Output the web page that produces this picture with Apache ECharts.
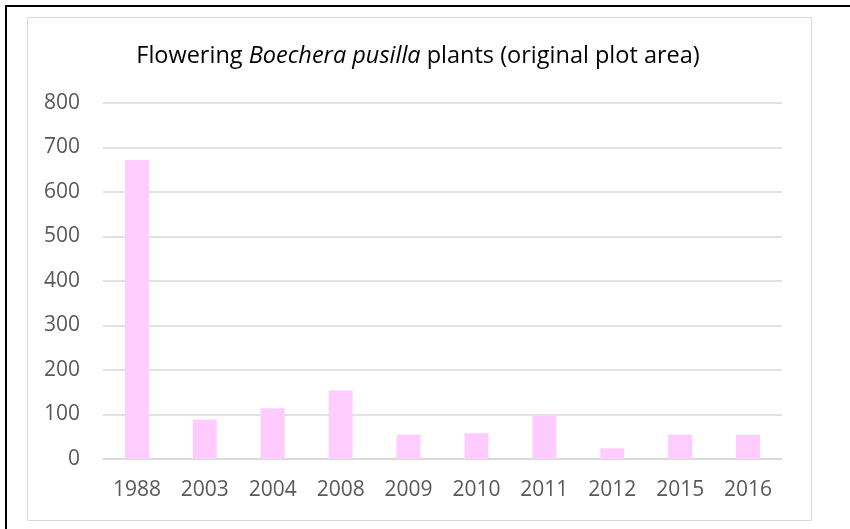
<!DOCTYPE html>
<html>
<head>
<meta charset="utf-8">
<style>
  html, body { margin: 0; padding: 0; background: #fff; }
  #chart { width: 850px; height: 529px; }
</style>
<script src="https://cdn.jsdelivr.net/npm/echarts@6/dist/echarts.min.js"></script>
</head>
<body>
<div id="chart"></div>
<script>
// data
const years = ['1988', '2003', '2004', '2008', '2009', '2010', '2011', '2012', '2015', '2016']
const plants = [672, 89, 114, 154, 55, 58, 99, 24, 55, 54]
const yTicks = [0, 100, 200, 300, 400, 500, 600, 700, 800]

const chart = echarts.init(document.getElementById('chart'))
const font = '"Open Sans", "Liberation Sans", sans-serif'

chart.setOption({
  animation: false,
  backgroundColor: '#fff',
  title: {
    text: '{a|Flowering }{b|Boechera pusilla}{a| plants (original plot area)}',
    left: 413,
    top: 39,
    textAlign: 'center',
    textStyle: {
      rich: {
        a: { fontFamily: font, fontSize: 23.5, color: '#000', fontWeight: 'normal' },
        b: { fontFamily: font, fontSize: 23.5, color: '#000', fontWeight: 'normal', fontStyle: 'italic' },
      },
    },
  },
  graphic: [
    // outer black frame (left + top only, image is cropped)
    { type: 'line', shape: { x1: 6, y1: 6, x2: 6, y2: 529 }, style: { stroke: '#000', lineWidth: 2 } },
    { type: 'line', shape: { x1: 5, y1: 6, x2: 850, y2: 6 }, style: { stroke: '#000', lineWidth: 2 } },
    // chart area border
    { type: 'rect', shape: { x: 27.5, y: 17.5, width: 784, height: 503 }, style: { fill: 'none', stroke: '#d9d9d9', lineWidth: 1 } },
  ],
  grid: { left: 103, right: 68, top: 103, bottom: 70 },
  xAxis: {
    type: 'category',
    data: years,
    axisTick: { show: false },
    axisLine: { lineStyle: { color: '#d9d9d9', width: 1.5 } },
    axisLabel: { color: '#595959', fontSize: 21, fontFamily: font, margin: 21 },
  },
  yAxis: {
    type: 'value',
    min: yTicks[0],
    max: yTicks[yTicks.length - 1],
    interval: 100,
    axisLine: { show: false },
    axisTick: { show: false },
    splitLine: { lineStyle: { color: '#d9d9d9', width: 1.5 } },
    axisLabel: { color: '#595959', fontSize: 21, fontFamily: font, margin: 23 },
  },
  series: [{
    type: 'bar',
    data: plants,
    barWidth: 24,
    itemStyle: { color: '#ffccff' },
  }],
})
</script>
</body>
</html>
